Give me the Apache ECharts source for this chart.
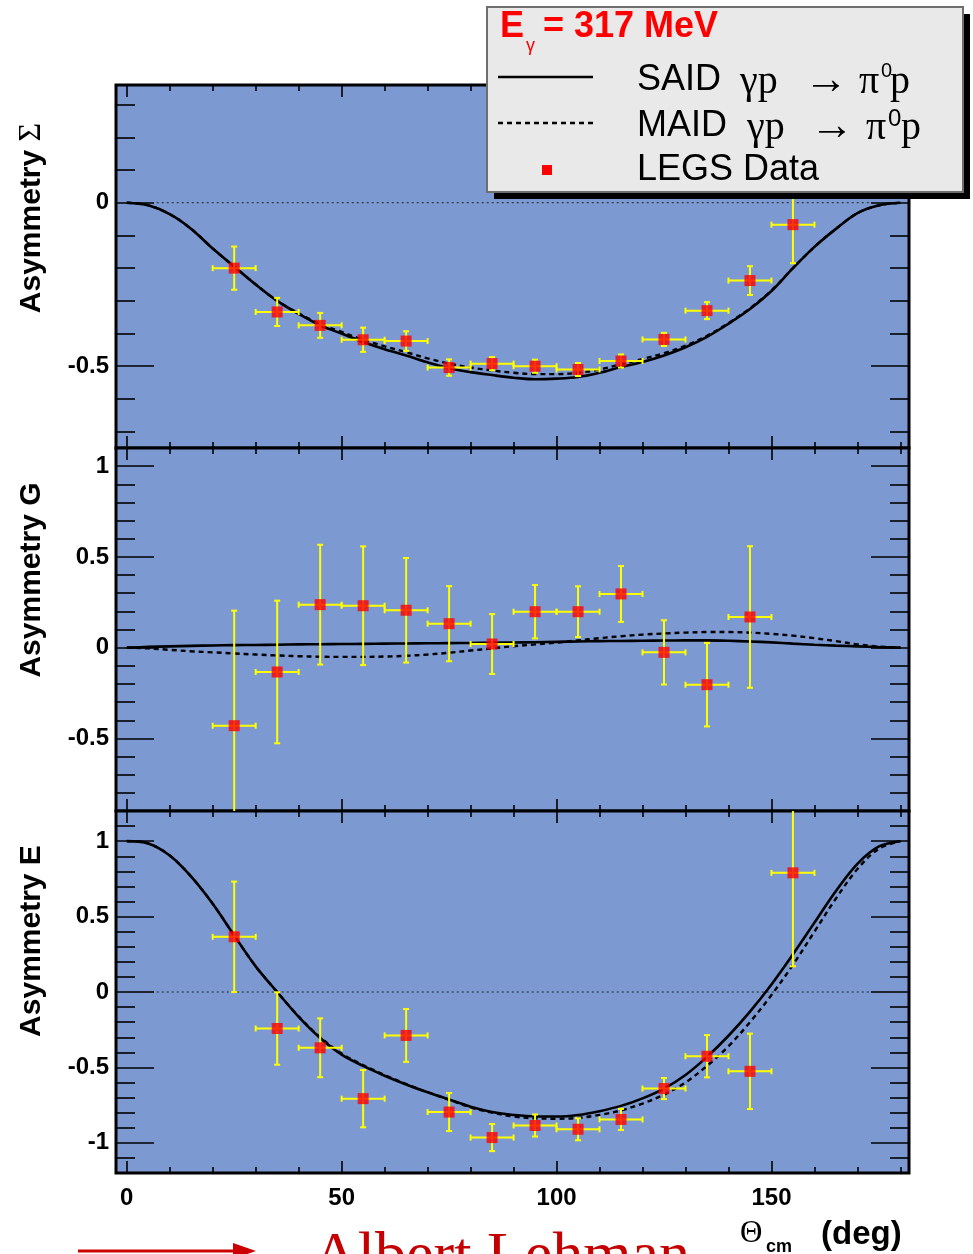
<!DOCTYPE html>
<html>
<head>
<meta charset="utf-8">
<script src="https://cdn.jsdelivr.net/npm/echarts@6/dist/echarts.min.js"></script>
<style>
  html, body { margin: 0; padding: 0; background: #ffffff; }
  #chart { width: 973px; height: 1254px; }
</style>
</head>
<body>
<div id="chart"></div>
<script>
// ---- LEGS polarization observables, E_gamma = 317 MeV ----
// measured angles (deg, c.m.) and angular bin half-width
const sigmaAngles = [25, 35, 45, 55, 65, 75, 85, 95, 105, 115, 125, 135, 145, 155];
const gAngles     = [25, 35, 45, 55, 65, 75, 85, 95, 105, 115, 125, 135, 145];
const eAngles     = [25, 35, 45, 55, 65, 75, 85, 95, 105, 115, 125, 135, 145, 155];
const binHalfWidth = 5;

// beam asymmetry Sigma
const sigmaVal = [-0.200, -0.334, -0.375, -0.419, -0.423, -0.504, -0.492, -0.500, -0.510, -0.484, -0.418, -0.330, -0.238, -0.067];
const sigmaErr = [0.066, 0.043, 0.038, 0.037, 0.030, 0.025, 0.020, 0.020, 0.020, 0.020, 0.020, 0.026, 0.044, 0.118];

// double-polarization observable G
const gVal = [-0.430, -0.134, 0.237, 0.231, 0.206, 0.132, 0.020, 0.198, 0.198, 0.296, -0.026, -0.204, 0.169];
const gErr = [0.634, 0.393, 0.330, 0.327, 0.288, 0.207, 0.165, 0.147, 0.140, 0.154, 0.177, 0.230, 0.390];

// double-polarization observable E
const eVal = [0.366, -0.242, -0.370, -0.707, -0.288, -0.796, -0.965, -0.885, -0.910, -0.845, -0.640, -0.426, -0.526, 0.790];
const eErr = [0.366, 0.240, 0.195, 0.190, 0.175, 0.126, 0.090, 0.073, 0.073, 0.070, 0.070, 0.140, 0.250, 0.620];

// multipole-analysis predictions, tabulated every 5 deg from 0 to 180
const curveAngles = [0, 5, 10, 15, 20, 25, 30, 35, 40, 45, 50, 55, 60, 65, 70, 75, 80, 85, 90,
                     95, 100, 105, 110, 115, 120, 125, 130, 135, 140, 145, 150, 155, 160, 165, 170, 175, 180];
const saidSigma = [0, -0.008, -0.035, -0.080, -0.140, -0.195, -0.250, -0.300, -0.340, -0.375, -0.400, -0.426, -0.448,
                   -0.467, -0.488, -0.506, -0.518, -0.527, -0.535, -0.540, -0.538, -0.533, -0.520, -0.502, -0.487,
                   -0.467, -0.442, -0.410, -0.370, -0.325, -0.270, -0.200, -0.135, -0.080, -0.032, -0.008, 0];
const maidSigma = [0, -0.008, -0.035, -0.080, -0.140, -0.195, -0.250, -0.300, -0.338, -0.371, -0.395, -0.419, -0.439,
                   -0.457, -0.476, -0.492, -0.504, -0.513, -0.520, -0.524, -0.524, -0.520, -0.510, -0.494, -0.478,
                   -0.460, -0.437, -0.407, -0.368, -0.323, -0.268, -0.200, -0.135, -0.080, -0.032, -0.008, 0];
const saidG = [0, 0.004, 0.007, 0.010, 0.012, 0.014, 0.015, 0.016, 0.018, 0.019, 0.020, 0.021, 0.022,
               0.023, 0.024, 0.025, 0.026, 0.027, 0.028, 0.030, 0.032, 0.034, 0.036, 0.037, 0.038,
               0.039, 0.040, 0.040, 0.038, 0.034, 0.029, 0.022, 0.016, 0.011, 0.007, 0.003, 0];
const maidG = [0, -0.004, -0.012, -0.020, -0.026, -0.032, -0.038, -0.043, -0.047, -0.050, -0.051, -0.051, -0.049,
               -0.045, -0.038, -0.028, -0.016, -0.004, 0.008, 0.018, 0.028, 0.040, 0.052, 0.063, 0.072,
               0.078, 0.083, 0.086, 0.086, 0.083, 0.076, 0.066, 0.052, 0.036, 0.018, 0.006, 0];
const saidE = [1, 0.985, 0.905, 0.765, 0.585, 0.375, 0.170, 0.000, -0.165, -0.305, -0.415, -0.490, -0.555,
               -0.613, -0.665, -0.713, -0.760, -0.795, -0.815, -0.825, -0.825, -0.815, -0.790, -0.755, -0.705,
               -0.640, -0.550, -0.430, -0.290, -0.130, 0.050, 0.250, 0.460, 0.670, 0.850, 0.965, 1];
const maidE = [1, 0.985, 0.905, 0.765, 0.585, 0.375, 0.170, 0.000, -0.162, -0.300, -0.408, -0.485, -0.550,
               -0.610, -0.665, -0.715, -0.765, -0.800, -0.825, -0.838, -0.840, -0.835, -0.815, -0.785, -0.740,
               -0.680, -0.600, -0.490, -0.360, -0.200, -0.020, 0.180, 0.400, 0.620, 0.815, 0.950, 1];

// dotted zero reference spans the physical angular range
const zeroRefAngles = [0, 180];

// axis ranges and tick values
const xRange = [-2.5, 182];
const xMajorTicks = [0, 50, 100, 150];
const xMinorTicks = [10, 20, 30, 40, 60, 70, 80, 90, 110, 120, 130, 140, 160, 170, 180];

const sigmaRange = [-0.75, 0.36];
const sigmaMajor = [0, -0.5];
const sigmaMinor = [0.3, 0.2, 0.1, -0.1, -0.2, -0.3, -0.4, -0.6, -0.7];

const gRange = [-0.9, 1.1];
const gMajor = [1, 0.5, 0, -0.5];
const gMinor = [0.9, 0.8, 0.7, 0.6, 0.4, 0.3, 0.2, 0.1, -0.1, -0.2, -0.3, -0.4, -0.6, -0.7, -0.8];

const eRange = [-1.2, 1.2];
const eMajor = [1, 0.5, 0, -0.5, -1];
const eMinor = [1.1, 0.9, 0.8, 0.7, 0.6, 0.4, 0.3, 0.2, 0.1, -0.1, -0.2, -0.3, -0.4, -0.6, -0.7, -0.8, -0.9, -1.1];

const yTitles = ['Asymmetry ', 'Asymmetry G', 'Asymmetry E'];

// ---- layout ----
const SANS = '"Liberation Sans", Arial, Helvetica, sans-serif';
const SERIF = '"Liberation Serif", "Times New Roman", serif';
const PLOT_BG = '#7c99d2';
const panelLayout = [
  { top: 85, height: 363, titleY: 218 },
  { top: 448, height: 363, titleY: 580 },
  { top: 811, height: 362, titleY: 941 }
];
const panels = [
  { range: sigmaRange, major: sigmaMajor, minor: sigmaMinor, angles: sigmaAngles, val: sigmaVal, err: sigmaErr,
    said: saidSigma, maid: maidSigma, zero: true },
  { range: gRange, major: gMajor, minor: gMinor, angles: gAngles, val: gVal, err: gErr,
    said: saidG, maid: maidG, zero: false },
  { range: eRange, major: eMajor, minor: eMinor, angles: eAngles, val: eVal, err: eErr,
    said: saidE, maid: maidE, zero: true }
];

const grid = [], xAxis = [], yAxis = [], series = [];

function tickAxis(kind, gridIndex, position, ticks, len, range, labelled) {
  return {
    type: 'value', gridIndex, position, min: range[0], max: range[1],
    axisLine: { show: false, onZero: false },
    splitLine: { show: false },
    axisTick: { show: true, inside: true, length: len, customValues: ticks,
                lineStyle: { color: '#000', width: 1.6 } },
    axisLabel: labelled
      ? { show: true, customValues: ticks, color: '#000', fontFamily: SANS, fontWeight: 'bold', fontSize: 24,
          margin: kind === 'x' ? 13 : 7 }
      : { show: false }
  };
}

function errorBars(params, api) {
  const x = api.value(0), y = api.value(1), dx = api.value(2), dy = api.value(3);
  const c = api.coord([x, y]);
  const l = api.coord([x - dx, y]);
  const r = api.coord([x + dx, y]);
  const t = api.coord([x, y + dy]);
  const b = api.coord([x, y - dy]);
  const cap = 3;
  const style = { stroke: '#ffff00', lineWidth: 2 };
  return {
    type: 'group',
    children: [
      { type: 'line', shape: { x1: l[0], y1: c[1], x2: r[0], y2: c[1] }, style },
      { type: 'line', shape: { x1: c[0], y1: t[1], x2: c[0], y2: b[1] }, style },
      { type: 'line', shape: { x1: l[0], y1: c[1] - cap, x2: l[0], y2: c[1] + cap }, style },
      { type: 'line', shape: { x1: r[0], y1: c[1] - cap, x2: r[0], y2: c[1] + cap }, style },
      { type: 'line', shape: { x1: c[0] - cap, y1: t[1], x2: c[0] + cap, y2: t[1] }, style },
      { type: 'line', shape: { x1: c[0] - cap, y1: b[1], x2: c[0] + cap, y2: b[1] }, style }
    ]
  };
}

panels.forEach((p, i) => {
  const lay = panelLayout[i];
  grid.push({
    left: 116, right: 64, top: lay.top, height: lay.height,
    show: true, backgroundColor: PLOT_BG, borderColor: '#000', borderWidth: 3, z: 0
  });
  const last = i === panels.length - 1;
  xAxis.push(tickAxis('x', i, 'bottom', xMajorTicks, 12, xRange, last));
  xAxis.push(tickAxis('x', i, 'bottom', xMinorTicks, 6, xRange, false));
  xAxis.push(tickAxis('x', i, 'top', xMajorTicks, 12, xRange, false));
  xAxis.push(tickAxis('x', i, 'top', xMinorTicks, 6, xRange, false));
  yAxis.push(tickAxis('y', i, 'left', p.major, 38, p.range, true));
  yAxis.push(tickAxis('y', i, 'left', p.minor, 19, p.range, false));
  yAxis.push(tickAxis('y', i, 'right', p.major, 38, p.range, false));
  yAxis.push(tickAxis('y', i, 'right', p.minor, 19, p.range, false));

  const xi = 4 * i, yi = 4 * i;

  if (p.zero) {
    series.push({
      type: 'line', xAxisIndex: xi, yAxisIndex: yi, silent: true, symbol: 'none', z: 1,
      data: zeroRefAngles.map(a => [a, 0]),
      lineStyle: { color: '#222', width: 1, type: [2, 3] }
    });
  }
  series.push({
    name: 'SAID', type: 'line', xAxisIndex: xi, yAxisIndex: yi, symbol: 'none', smooth: 0.35, z: 2,
    data: curveAngles.map((a, k) => [a, p.said[k]]),
    lineStyle: { color: '#000', width: 2.6 }
  });
  series.push({
    name: 'MAID', type: 'line', xAxisIndex: xi, yAxisIndex: yi, symbol: 'none', smooth: 0.35, z: 2,
    data: curveAngles.map((a, k) => [a, p.maid[k]]),
    lineStyle: { color: '#000', width: 2.4, type: [5, 4] }
  });
  series.push({
    type: 'custom', xAxisIndex: xi, yAxisIndex: yi, clip: true, z: 3,
    renderItem: errorBars, encode: { x: 0, y: 1 },
    data: p.angles.map((a, k) => [a, p.val[k], binHalfWidth, p.err[k]])
  });
  series.push({
    name: 'LEGS Data', type: 'scatter', xAxisIndex: xi, yAxisIndex: yi, z: 4,
    symbol: 'rect', symbolSize: 11,
    itemStyle: { color: '#ff0000' },
    data: p.angles.map((a, k) => [a, p.val[k]])
  });
});

// ---- annotations: axis titles, legend box, credit ----
const graphic = [];

// rotated y-axis titles
graphic.push({
  type: 'text', x: 32, y: panelLayout[0].titleY, rotation: Math.PI / 2, z: 10,
  style: {
    text: '{a|' + yTitles[0] + '}{s|Σ}', align: 'center', verticalAlign: 'middle',
    rich: {
      a: { font: 'bold 30px ' + SANS, fill: '#000' },
      s: { font: '32px ' + SERIF, fill: '#000' }
    }
  }
});
[1, 2].forEach(i => graphic.push({
  type: 'text', x: 32, y: panelLayout[i].titleY, rotation: Math.PI / 2, z: 10,
  style: { text: yTitles[i], font: 'bold 30px ' + SANS, fill: '#000', align: 'center', verticalAlign: 'middle' }
}));

// x-axis title
graphic.push(
  { type: 'text', x: 740, y: 1234, z: 10,
    style: { text: 'Θ', font: '31px ' + SERIF, fill: '#000', verticalAlign: 'middle' } },
  { type: 'text', x: 766, y: 1247, z: 10,
    style: { text: 'cm', font: 'bold 18px ' + SANS, fill: '#000', verticalAlign: 'middle' } },
  { type: 'text', x: 821, y: 1235, z: 10,
    style: { text: '(deg)', font: 'bold 33px ' + SANS, fill: '#000', verticalAlign: 'middle' } }
);

// legend box with drop shadow
const LX = 487, LY = 7, LW = 476, LH = 185;
graphic.push(
  { type: 'rect', z: 20, shape: { x: LX + 7, y: LY + 7, width: LW, height: LH }, style: { fill: '#000' } },
  { type: 'rect', z: 21, shape: { x: LX, y: LY, width: LW, height: LH },
    style: { fill: '#e9e9e9', stroke: '#6e6e6e', lineWidth: 2 } },
  { type: 'text', x: 500, y: 27, z: 22,
    style: { text: 'E', font: 'bold 36px ' + SANS, fill: '#ff0000', verticalAlign: 'middle' } },
  { type: 'text', x: 526, y: 46, z: 22,
    style: { text: 'γ', font: '18px ' + SANS, fill: '#ff0000', verticalAlign: 'middle' } },
  { type: 'text', x: 543, y: 27, z: 22,
    style: { text: '= 317 MeV', font: 'bold 36px ' + SANS, fill: '#ff0000', verticalAlign: 'middle' } },
  // line samples
  { type: 'line', z: 22, shape: { x1: 498, y1: 77, x2: 593, y2: 77 }, style: { stroke: '#000', lineWidth: 2.6 } },
  { type: 'line', z: 22, shape: { x1: 498, y1: 123, x2: 593, y2: 123 },
    style: { stroke: '#000', lineWidth: 2.4, lineDash: [5, 4] } },
  { type: 'rect', z: 22, shape: { x: 542, y: 165, width: 10, height: 10 }, style: { fill: '#ff0000' } }
);

const legendRows = [
  { label: 'SAID', y: 80, gx: 740, ax: 804, px: 859, sx: 881, sy: 71, sf: 20, ppx: 890 },
  { label: 'MAID', y: 126, gx: 747, ax: 810, px: 866, sx: 888, sy: 119, sf: 24, ppx: 901 }
];
legendRows.forEach(r => {
  graphic.push(
    { type: 'text', x: 637, y: r.y, z: 22, style: { text: r.label, font: '36px ' + SANS, fill: '#000', verticalAlign: 'middle' } },
    { type: 'text', x: r.gx, y: r.y + 2, z: 22, style: { text: 'γp', font: '40px ' + SERIF, fill: '#000', verticalAlign: 'middle' } },
    { type: 'text', x: r.ax, y: r.y + 1, z: 22, style: { text: '→', font: '44px ' + SERIF, fill: '#000', verticalAlign: 'middle' } },
    { type: 'text', x: r.px, y: r.y + 2, z: 22, style: { text: 'π', font: '40px ' + SERIF, fill: '#000', verticalAlign: 'middle' } },
    { type: 'text', x: r.sx, y: r.sy, z: 22, style: { text: '0', font: r.sf + 'px ' + SANS, fill: '#000', verticalAlign: 'middle' } },
    { type: 'text', x: r.ppx, y: r.y + 2, z: 22, style: { text: 'p', font: '40px ' + SERIF, fill: '#000', verticalAlign: 'middle' } }
  );
});
graphic.push({ type: 'text', x: 637, y: 170, z: 22,
  style: { text: 'LEGS Data', font: '36px ' + SANS, fill: '#000', verticalAlign: 'middle' } });

// credit line with arrow
graphic.push(
  { type: 'line', z: 10, shape: { x1: 78, y1: 1251, x2: 240, y2: 1251 }, style: { stroke: '#cc0000', lineWidth: 3 } },
  { type: 'polygon', z: 10, shape: { points: [[233, 1243], [256, 1251], [233, 1259]] }, style: { fill: '#cc0000' } },
  { type: 'text', x: 313, y: 1258, z: 10,
    style: { text: 'Albert Lehman', font: '62px ' + SERIF, fill: '#c40000', verticalAlign: 'middle' } }
);

const chart = echarts.init(document.getElementById('chart'), null, { renderer: 'canvas' });
chart.setOption({
  animation: false,
  backgroundColor: '#ffffff',
  grid, xAxis, yAxis, series, graphic
});
</script>
</body>
</html>
